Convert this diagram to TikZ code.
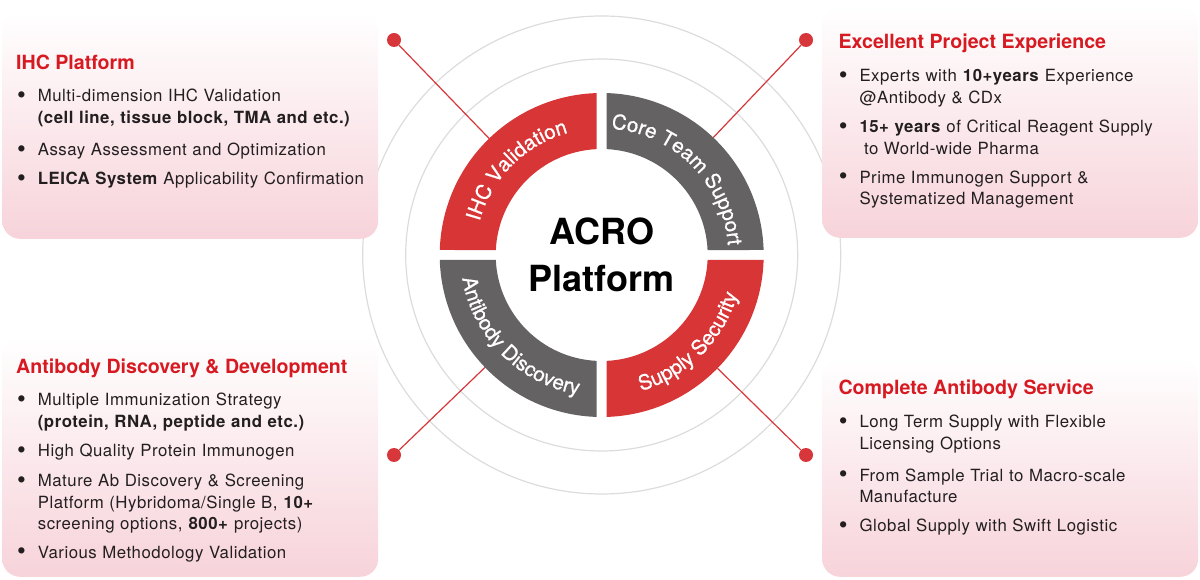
\documentclass[tikz,border=0pt]{standalone}
\usepackage{fontspec}
\setmainfont{TeX Gyre Heros}
\newfontfamily\bodyfont[LetterSpace=3.0]{TeX Gyre Heros}
\newfontfamily\ringfamily[FakeBold=0.8]{TeX Gyre Heros}
\usetikzlibrary{calc,decorations.text}

\definecolor{acrored}{HTML}{D7363A}
\definecolor{headred}{HTML}{D71A21}
\definecolor{segred}{HTML}{D73536}
\definecolor{seggray}{HTML}{646263}
\definecolor{haloline}{HTML}{DCDCDC}
\definecolor{boxpink}{HTML}{F7D3DA}
\definecolor{bodytext}{HTML}{231F20}

\newcommand\ringfont{\ringfamily\fontsize{20.5}{20.5}\selectfont}
\newcommand\itembullet{\leavevmode\llap{\raisebox{-1.6pt}{\fontsize{25}{25}\selectfont\textbullet}\hspace{12pt}}}

\tikzset{
  infobox/.style={rounded corners=18pt, top color=white, bottom color=boxpink,
    inner sep=0pt, anchor=south west},
  heading/.style={anchor=base west, inner sep=0pt, text=headred,
    font=\fontsize{19.6}{24}\selectfont\bfseries},
  itemtext/.style={anchor=base west, inner sep=0pt, text=bodytext,
    text width=360pt, align=left, font=\bodyfont\fontsize{16.8}{21.5}\selectfont},
  leaderdot/.style={circle, fill=acrored, minimum size=14pt, inner sep=0pt},
  leader/.style={acrored, line width=1.2pt},
  halo/.style={haloline, line width=1.2pt},
  ringlabel/.style={decorate, decoration={text along path, text align=center,
    text color=white, text={|\ringfont|#1}}}
}

\begin{document}
\begin{tikzpicture}[x=1pt, y=1pt]
  \useasboundingbox (0,0) rectangle (1200,579);
  \coordinate (c) at (601.7,324);

  % grey rings behind everything
  \draw[halo] (c) circle[radius=196pt];
  \draw[halo] (c) circle[radius=239pt];

  % the four info boxes
  \node[infobox, minimum width=376pt, minimum height=227pt] (tlbox) at (2,340) {};
  \node[infobox, minimum width=376pt, minimum height=232pt] (trbox) at (822,341) {};
  \node[infobox, minimum width=376pt, minimum height=240pt] (blbox) at (2,2) {};
  \node[infobox, minimum width=376pt, minimum height=219pt] (brbox) at (822,2) {};

  % leader lines with dots
  \node[leaderdot] (tldot) at (394,539) {};
  \node[leaderdot] (trdot) at (806,539) {};
  \node[leaderdot] (bldot) at (394,124) {};
  \node[leaderdot] (brdot) at (806,124) {};
  \coordinate (tlend) at ($(c)!162pt!(tldot)$);
  \coordinate (trend) at ($(c)!162pt!(trdot)$);
  \coordinate (blend) at ($(c)!162pt!(bldot)$);
  \coordinate (brend) at ($(c)!162pt!(brdot)$);
  \draw[leader] (tldot) -- (tlend);
  \draw[leader] (trdot) -- (trend);
  \draw[leader] (bldot) -- (blend);
  \draw[leader] (brdot) -- (brend);

  % ring segments, 10pt gaps
  \fill[segred] ($(c)+(91.77:162pt)$) arc[start angle=91.77, end angle=178.23, radius=162pt]
    -- ($(c)+(177.30:106pt)$) arc[start angle=177.30, end angle=92.70, radius=106pt] -- cycle;
  \fill[seggray] ($(c)+(1.77:162pt)$) arc[start angle=1.77, end angle=88.23, radius=162pt]
    -- ($(c)+(87.30:106pt)$) arc[start angle=87.30, end angle=2.70, radius=106pt] -- cycle;
  \fill[seggray] ($(c)+(181.77:162pt)$) arc[start angle=181.77, end angle=268.23, radius=162pt]
    -- ($(c)+(267.30:106pt)$) arc[start angle=267.30, end angle=182.70, radius=106pt] -- cycle;
  \fill[segred] ($(c)+(271.77:162pt)$) arc[start angle=271.77, end angle=358.23, radius=162pt]
    -- ($(c)+(357.30:106pt)$) arc[start angle=357.30, end angle=272.70, radius=106pt] -- cycle;

  % labels on the ring
  \path[ringlabel=IHC Validation] ($(c)+(180:126.6pt)$) arc[start angle=180, end angle=90, radius=126.6pt];
  \path[ringlabel=Core Team Support] ($(c)+(90:126.6pt)$) arc[start angle=90, end angle=0, radius=126.6pt];
  \path[ringlabel=Antibody Discovery] ($(c)+(180:141.4pt)$) arc[start angle=180, end angle=270, radius=141.4pt];
  \path[ringlabel=Supply Security] ($(c)+(270:141.4pt)$) arc[start angle=270, end angle=360, radius=141.4pt];

  \node[align=center, inner sep=0pt, font=\fontsize{36}{47}\selectfont\bfseries] (acro) at (c) {ACRO\\Platform};

  % IHC platform
  \node[heading] (tlhead) at (16,509) {IHC Platform};
  \node[itemtext] (tl1) at (37.7,477.3) {\itembullet Multi-dimension IHC Validation\\\textbf{(cell line, tissue block, TMA and etc.)}};
  \node[itemtext] (tl2) at (37.7,423.3) {\itembullet Assay Assessment and Optimization};
  \node[itemtext] (tl3) at (37.7,394) {\itembullet\textbf{LEICA System} Applicability Confirmation};

  % project experience
  \node[heading] (trhead) at (838.3,530) {Excellent Project Experience};
  \node[itemtext] (tr1) at (859.3,497.3) {\itembullet Experts with \textbf{10+years} Experience\\@Antibody \& CDx};
  \node[itemtext] (tr2) at (859.3,446.3) {\itembullet\textbf{15+ years} of Critical Reagent Supply\\\hspace*{4.5pt}to World-wide Pharma};
  \node[itemtext] (tr3) at (859.3,395.7) {\itembullet Prime Immunogen Support \&\\Systematized Management};

  % discovery and development
  \node[heading] (blhead) at (16,205.7) {Antibody Discovery \& Development};
  \node[itemtext] (bl1) at (37.7,173) {\itembullet Multiple Immunization Strategy\\\textbf{(protein, RNA, peptide and etc.)}};
  \node[itemtext] (bl2) at (37.7,122.3) {\itembullet High Quality Protein Immunogen};
  \node[itemtext] (bl3) at (37.7,92.3) {\itembullet Mature Ab Discovery \& Screening\\Platform (Hybridoma/Single B, \textbf{10+}\\screening options, \textbf{800+} projects)};
  \node[itemtext] (bl4) at (37.7,20.7) {\itembullet Various Methodology Validation};

  % antibody service
  \node[heading] (brhead) at (838.3,184) {Complete Antibody Service};
  \node[itemtext] (br1) at (859.3,151.3) {\itembullet Long Term Supply with Flexible\\Licensing Options};
  \node[itemtext] (br2) at (859.3,98) {\itembullet From Sample Trial to Macro-scale\\Manufacture};
  \node[itemtext] (br3) at (859.3,47.3) {\itembullet Global Supply with Swift Logistic};
\end{tikzpicture}
\end{document}
